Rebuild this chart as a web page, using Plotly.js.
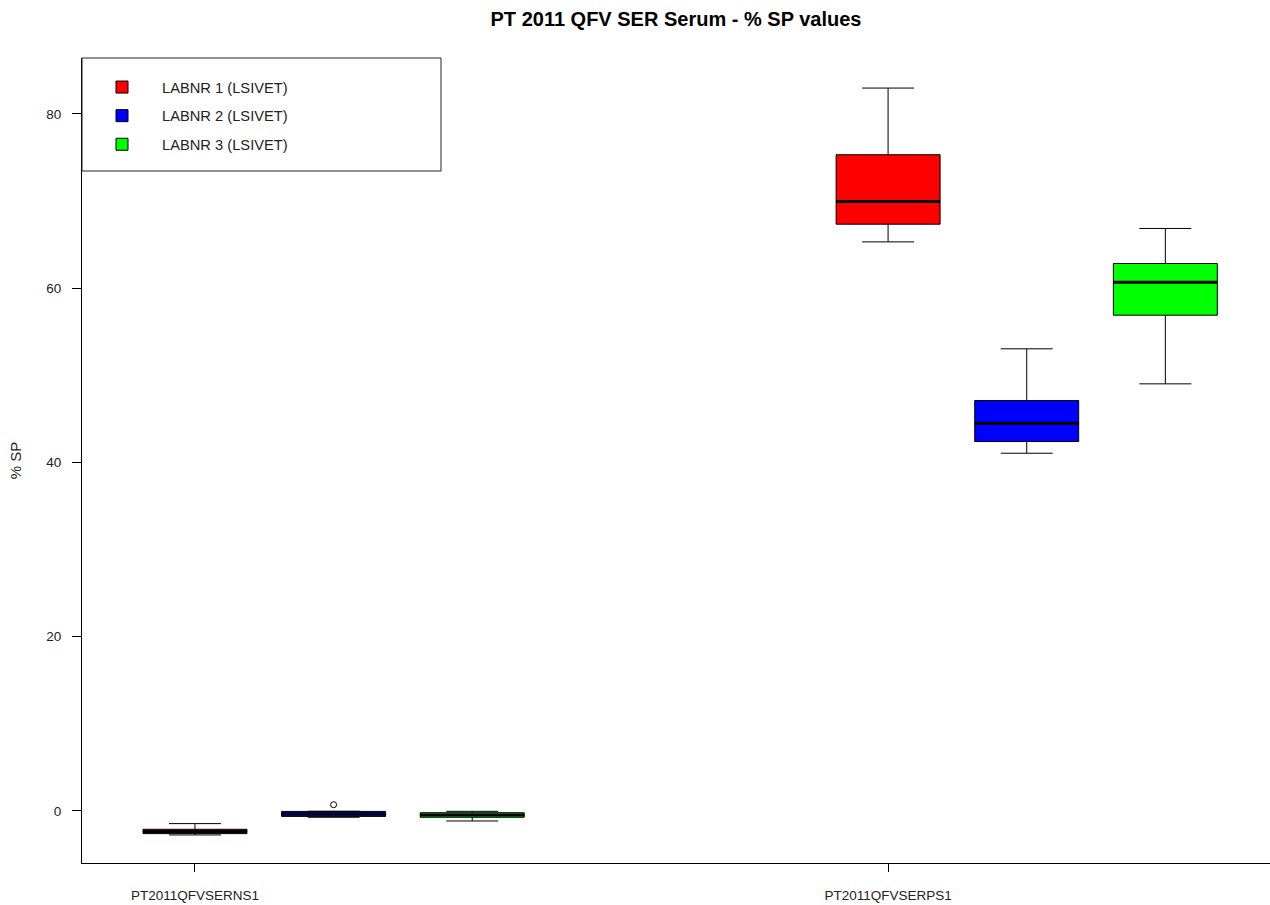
<!DOCTYPE html>
<html><head><meta charset="utf-8">
<script src="https://cdn.plot.ly/plotly-3.0.1.min.js"></script>
<style>html,body{margin:0;padding:0;background:#fff}#chart{width:1270px;height:905px}</style>
</head><body><div id="chart"></div>
<script>
// Categories (samples) and labs
const categories = ["PT2011QFVSERNS1", "PT2011QFVSERPS1"];
const labNames = ["LABNR 1 (LSIVET)", "LABNR 2 (LSIVET)", "LABNR 3 (LSIVET)"];
const labColors = ["#FF0000", "#0000FF", "#00FF00"];

// Box statistics per lab, one value per category [NS1, PS1]
const lab1Lower  = [-2.75, 65.3];
const lab1Q1     = [-2.6, 67.33];
const lab1Median = [-2.35, 69.94];
const lab1Q3     = [-2.1, 75.3];
const lab1Upper  = [-1.45, 82.95];
const lab1Outliers = [[], []];

const lab2Lower  = [-0.72, 41.05];
const lab2Q1     = [-0.62, 42.39];
const lab2Median = [-0.35, 44.5];
const lab2Q3     = [-0.05, 47.1];
const lab2Upper  = [-0.03, 53.03];
const lab2Outliers = [[0.72], []];

const lab3Lower  = [-1.15, 49.01];
const lab3Q1     = [-0.72, 56.89];
const lab3Median = [-0.45, 60.68];
const lab3Q3     = [-0.2, 62.82];
const lab3Upper  = [-0.04, 66.84];
const lab3Outliers = [[], []];

const yTicks = [0, 20, 40, 60, 80];

const labs = [
  {lower: lab1Lower, q1: lab1Q1, median: lab1Median, q3: lab1Q3, upper: lab1Upper, out: lab1Outliers},
  {lower: lab2Lower, q1: lab2Q1, median: lab2Median, q3: lab2Q3, upper: lab2Upper, out: lab2Outliers},
  {lower: lab3Lower, q1: lab3Q1, median: lab3Median, q3: lab3Q3, upper: lab3Upper, out: lab3Outliers}
];

const traces = [];
labs.forEach((L, i) => {
  const hasOut = L.out.some(a => a.length > 0);
  const t = {
    type: 'box', name: labNames[i], x: categories,
    q1: L.q1, median: L.median, q3: L.q3, lowerfence: L.lower, upperfence: L.upper,
    boxpoints: hasOut ? 'outliers' : false, pointpos: 0, jitter: 0,
    marker: {symbol: 'circle-open', color: '#000', size: 6, line: {width: 1}},
    fillcolor: labColors[i], line: {color: '#000', width: 1},
    whiskerwidth: 0.5,
    alignmentgroup: 'all', offsetgroup: 'g' + i, legendgroup: 'g' + i,
    hoverinfo: 'skip'
  };
  if (hasOut) t.y = L.out;
  traces.push(t);
});
// thick median lines (R style)
labs.forEach((L, i) => {
  traces.push({
    type: 'box', name: labNames[i], x: categories,
    q1: L.median, median: L.median, q3: L.median, lowerfence: L.median, upperfence: L.median,
    boxpoints: false, fillcolor: 'rgba(0,0,0,0)', line: {color: '#000', width: 3},
    whiskerwidth: 0, showlegend: false,
    alignmentgroup: 'all', offsetgroup: 'g' + i, legendgroup: 'g' + i,
    hoverinfo: 'skip'
  });
});
// invisible carrier so the category tick axis (aligned on first box of each group) is drawn
traces.push({
  type: 'scatter', mode: 'markers', x: categories.map((c, i) => i), y: categories.map(() => 0),
  xaxis: 'x2', yaxis: 'y', marker: {opacity: 0}, showlegend: false, hoverinfo: 'skip'
});

const layout = {
  width: 1270, height: 905,
  margin: {l: 82, r: 0, t: 58, b: 42, pad: 0},
  paper_bgcolor: '#fff', plot_bgcolor: '#fff',
  font: {family: 'Liberation Sans, Arial, sans-serif', color: '#222', size: 13},
  title: {text: '<b>PT 2011 QFV SER Serum - % SP values</b>', x: 0.5, xref: 'paper',
          y: 1 - 19 / 905, yref: 'container', yanchor: 'middle', font: {size: 20, color: '#000'}},
  boxmode: 'group', boxgap: 0.4, boxgroupgap: 0.25,
  showlegend: true,
  xaxis: {type: 'category', categoryarray: categories, categoryorder: 'array', range: [-0.363, 1.351],
          showticklabels: false, ticks: '', showline: true, linecolor: '#000', linewidth: 1,
          showgrid: false, zeroline: false, fixedrange: true},
  xaxis2: {overlaying: 'x', anchor: 'y', side: 'bottom', type: 'linear', range: [-0.163, 1.551],
           tickmode: 'array', tickvals: categories.map((c, i) => i), ticktext: categories,
           ticks: 'outside', ticklen: 8, tickcolor: '#000', showline: false, showgrid: false,
           zeroline: false, ticklabelstandoff: 12, tickfont: {size: 13.5, color: '#222'}},
  yaxis: {range: [-5.97, 86.4], tickmode: 'array', tickvals: yTicks, ticks: 'outside', ticklen: 9,
          tickcolor: '#000', showline: true, linecolor: '#000', linewidth: 1, showgrid: false,
          zeroline: false, ticklabelstandoff: 8, tickfont: {size: 13.5, color: '#222'},
          title: {text: '% SP', standoff: 21, font: {size: 15, color: '#222'}}},
  legend: {x: 0, xanchor: 'left', y: 1 - 13 / 805, yanchor: 'top', bgcolor: 'rgba(0,0,0,0)',
           borderwidth: 0, font: {size: 14.7, color: '#222'}, itemwidth: 70, tracegroupgap: 6.5,
           traceorder: 'grouped', itemclick: false, itemdoubleclick: false},
  shapes: [{type: 'rect', xref: 'paper', yref: 'paper', x0: 0, x1: 359 / 1188, y0: 1 - 113 / 805, y1: 1,
            line: {color: '#222', width: 1}, fillcolor: 'rgba(0,0,0,0)'}]
};

Plotly.newPlot('chart', traces, layout, {displayModeBar: false, staticPlot: true});
</script>
</body></html>
